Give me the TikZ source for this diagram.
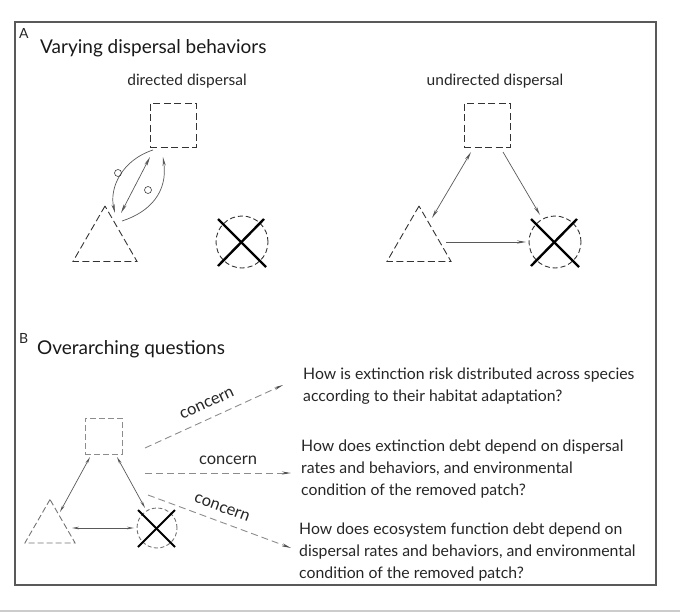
\documentclass[tikz,border=0pt]{standalone}
\usepackage{fontspec}
\setmainfont{Lato}
\usetikzlibrary{arrows.meta,shapes.geometric,calc}
\begin{document}
\begin{tikzpicture}[x=1pt,y=-1pt,
  txt/.style={text=black!85,inner sep=0pt,font=\fontsize{15.8}{22.3}\selectfont},
  subt/.style={txt,font=\fontsize{15.5}{20}\selectfont},
  conc/.style={txt,font=\fontsize{16.5}{20}\selectfont},
  patch/.style={draw=black!80,dash pattern=on 7pt off 3.5pt,line width=0.9pt,inner sep=0pt},
  sqpatch/.style={patch,rectangle,minimum width=46pt,minimum height=44pt},
  tripatch/.style={patch,regular polygon,regular polygon sides=3,minimum size=74pt},
  circpatch/.style={patch,dash pattern=on 5pt off 3pt,circle,minimum size=52pt},
  xline/.style={line width=2.4pt,black},
  link/.style={draw=black!65,line width=0.7pt},
  onetip/.style={-{Stealth[length=9pt,width=3.2pt]}},
  twotip/.style={{Stealth[length=9pt,width=3.2pt]}-{Stealth[length=9pt,width=3.2pt]}},
  smalltwo/.style={{Stealth[length=7pt,width=2.6pt]}-{Stealth[length=7pt,width=2.6pt]}},
  concernarrow/.style={draw=black!45,line width=0.9pt,dash pattern=on 7pt off 4pt,-{Stealth[length=9pt,width=3pt,black!70]}},
  ring/.style={draw=black!75,circle,line width=0.6pt,minimum size=7pt,inner sep=0pt}
]
\useasboundingbox (0,0) rectangle (680,613);
% frame
\node[draw=black!65,line width=1.4pt,minimum width=641pt,minimum height=563pt,inner sep=0pt] (frame) at (335.5,303.5) {};
\draw[black!20,line width=1.5pt] (0,611) -- (680,611);

% Panel A
\node[txt,font=\fontsize{14}{16}\selectfont,anchor=base west] (labA) at (19,38) {A};
\node[txt,font=\fontsize{19}{22}\selectfont,anchor=west,text=black!90] (titA) at (40,48) {Varying dispersal behaviors};
\node[subt] (dirt) at (187,81) {directed dispersal};
\node[subt] (undirt) at (495,81) {undirected dispersal};

% directed
\node[sqpatch] (sq1) at (173,125) {};
\node[tripatch] (tri1) at (105,243) {};
\node[circpatch] (cc1) at (242,242) {};
\draw[xline] ($(cc1)+(-24,-23)$) -- ($(cc1)+(24,25)$);
\draw[xline] ($(cc1)+(22,-23)$) -- ($(cc1)+(-24,24)$);
\coordinate (d1s) at (153,150);
\coordinate (d1e) at (115,213);
\coordinate (d2s) at (150,157);
\coordinate (d2e) at (121,213);
\coordinate (d3s) at (122,221);
\coordinate (d3e) at (163,157);
\draw[link,onetip] (d1s) .. controls (122,160) and (109,188) .. (d1e);
\draw[link,twotip] (d2s) -- (d2e);
\draw[link,onetip] (d3s) .. controls (150,212) and (168,192) .. (d3e);
\node[ring] (o1) at (118,173) {};
\node[ring] (o2) at (148,190) {};

% undirected
\node[sqpatch] (sq2) at (487,125) {};
\node[tripatch] (tri2) at (419,243) {};
\node[circpatch] (cc2) at (555,242) {};
\draw[xline] ($(cc2)+(-24,-23)$) -- ($(cc2)+(24,25)$);
\draw[xline] ($(cc2)+(22,-23)$) -- ($(cc2)+(-24,24)$);
\coordinate (u1s) at (471,152);
\coordinate (u1e) at (432,218);
\coordinate (u2s) at (503,152);
\coordinate (u2e) at (540,215);
\coordinate (u3s) at (446,242);
\coordinate (u3e) at (526,242);
\draw[link,twotip] (u1s) -- (u1e);
\draw[link,onetip] (u2s) -- (u2e);
\draw[link,onetip] (u3s) -- (u3e);

% Panel B
\node[txt,font=\fontsize{14}{16}\selectfont,anchor=base west] (labB) at (19,343) {B};
\node[txt,font=\fontsize{19}{22}\selectfont,anchor=west,text=black!90] (titB) at (37,349) {Overarching questions};

\node[patch,dash pattern=on 6pt off 3pt,draw=black!45,rectangle,minimum width=37pt,minimum height=36pt] (sq3) at (103.5,436) {};
\node[patch,dash pattern=on 6pt off 3pt,draw=black!55,regular polygon,regular polygon sides=3,minimum size=58pt] (tri3) at (50,528.5) {};
\node[patch,dash pattern=on 4pt off 2.5pt,draw=black!55,circle,minimum size=40pt] (cc3) at (157,528) {};
\draw[xline,line width=2pt] ($(cc3)+(-19,-18)$) -- ($(cc3)+(18,19)$);
\draw[xline,line width=2pt] ($(cc3)+(18,-18)$) -- ($(cc3)+(-19,19)$);
\coordinate (b1s) at (90,457);
\coordinate (b1e) at (60,512);
\coordinate (b2s) at (117,457);
\coordinate (b2e) at (145,508);
\coordinate (b3s) at (72,528);
\coordinate (b3e) at (134,528);
\draw[link,smalltwo] (b1s) -- (b1e);
\draw[link,smalltwo] (b2s) -- (b2e);
\draw[link,smalltwo] (b3s) -- (b3e);

\coordinate (c1s) at (145,448);
\coordinate (c1e) at (283,385);
\coordinate (c2s) at (145,473);
\coordinate (c2e) at (291,473);
\coordinate (c3s) at (148,495);
\coordinate (c3e) at (291,548);
\draw[concernarrow] (c1s) -- (c1e);
\draw[concernarrow] (c2s) -- (c2e);
\draw[concernarrow] (c3s) -- (c3e);
\node[conc,rotate=24.7] (k1) at (207,404) {concern};
\node[conc] (k2) at (228,460) {concern};
\node[conc,rotate=-20.5] (k3) at (222,508) {concern};

\node[txt,align=left,anchor=west] (q1) at (303,386) {How is extinction risk distributed across species\\according to their habitat adaptation?};
\node[txt,align=left,anchor=west] (q2) at (301,469) {How does extinction debt depend on dispersal\\rates and behaviors, and environmental\\condition of the removed patch?};
\node[txt,align=left,anchor=west] (q3) at (299,552) {How does ecosystem function debt depend on\\dispersal rates and behaviors, and environmental\\condition of the removed patch?};
\end{tikzpicture}
\end{document}
